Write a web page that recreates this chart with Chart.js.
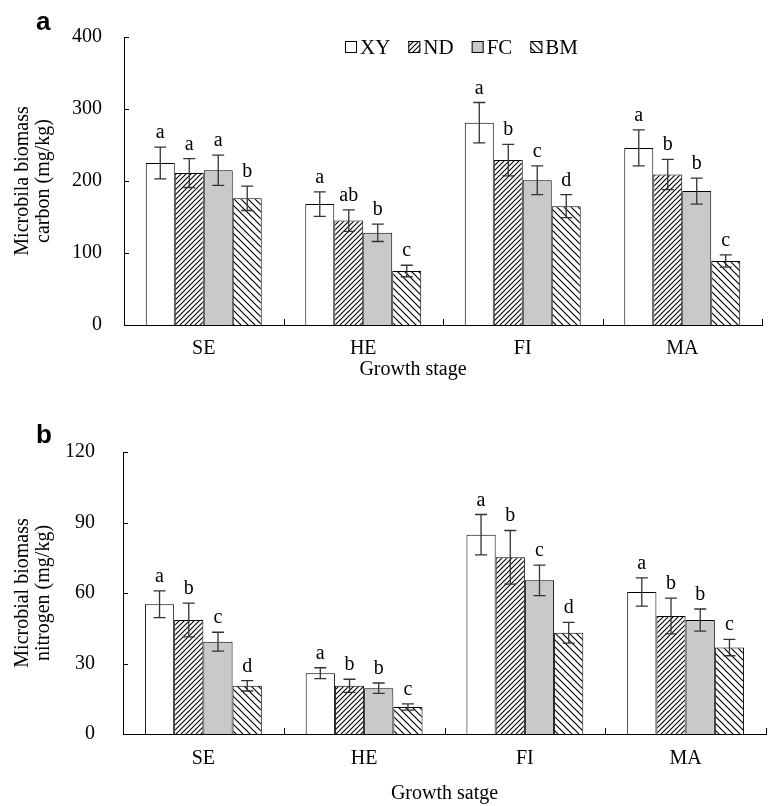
<!DOCTYPE html>
<html>
<head>
<meta charset="utf-8">
<script src="https://cdn.jsdelivr.net/npm/chart.js@4.4.0/dist/chart.umd.min.js"></script>
<style>
body { margin: 0; background: #fff; }
#cadre { position: relative; width: 769px; height: 806px; }
canvas { position: absolute; left: 0; }
</style>
</head>
<body>
<div id="cadre">
    <canvas id="chartA" width="769" height="400" style="top:0"></canvas>
    <canvas id="chartB" width="769" height="406" style="top:400px"></canvas>
</div>
<script>
// Données
var stages = ["SE", "HE", "FI", "MA"];
var traitements = ["XY", "ND", "FC", "BM"];

// a : carbone (mg/kg)
var carbonXY = [225, 168, 281, 246];
var carbonND = [211, 145, 229, 209];
var carbonFC = [215, 128, 201, 186];
var carbonBM = [176, 75, 165, 89];
var carbonErrXY = [22, 17, 28, 25];
var carbonErrND = [20, 15, 22, 21];
var carbonErrFC = [21, 12, 20, 18];
var carbonErrBM = [17, 8, 16, 8.5];
var carbonLetXY = ["a", "a", "a", "a"];
var carbonLetND = ["a", "ab", "b", "b"];
var carbonLetFC = ["a", "b", "c", "b"];
var carbonLetBM = ["b", "c", "d", "c"];
var carbonTicks = [0, 100, 200, 300, 400];

// b : azote (mg/kg)
var azoteXY = [55.2, 25.9, 84.8, 60.4];
var azoteND = [48.5, 20.5, 75.2, 50.2];
var azoteFC = [39.3, 19.5, 65.4, 48.5];
var azoteBM = [20.5, 11.5, 43.1, 36.8];
var azoteErrXY = [5.7, 2.3, 8.6, 6];
var azoteErrND = [7.2, 2.8, 11.4, 7.6];
var azoteErrFC = [4, 2.2, 6.5, 4.7];
var azoteErrBM = [2.2, 1.3, 4.4, 3.5];
var azoteLetXY = ["a", "a", "a", "a"];
var azoteLetND = ["b", "b", "b", "b"];
var azoteLetFC = ["c", "b", "c", "b"];
var azoteLetBM = ["d", "c", "d", "c"];
var azoteTicks = [0, 30, 60, 90, 120];

var serif = "'Liberation Serif', 'Times New Roman', serif";

// motifs de hachures
function hachure(sens, pas, epaisseur) {
    var c = document.createElement('canvas');
    c.width = pas; c.height = pas;
    var g = c.getContext('2d');
    g.fillStyle = '#fff';
    g.fillRect(0, 0, pas, pas);
    g.strokeStyle = '#000';
    g.lineWidth = epaisseur;
    g.beginPath();
    if (sens == "/") {
        g.moveTo(-1, pas + 1); g.lineTo(pas + 1, -1);
        g.moveTo(-1, 1); g.lineTo(1, -1);
        g.moveTo(pas - 1, pas + 1); g.lineTo(pas + 1, pas - 1);
    } else {
        g.moveTo(-1, -1); g.lineTo(pas + 1, pas + 1);
        g.moveTo(pas - 1, -1); g.lineTo(pas + 1, 1);
        g.moveTo(-1, pas - 1); g.lineTo(1, pas + 1);
    }
    g.stroke();
    return g.createPattern(c, 'repeat');
}

var remplissages = ['#ffffff', hachure("/", 5, 1.1), '#c9c9c9', hachure("\\", 7, 1.2)];

// barres d'erreur, lettres, petits traits et légende
var decorations = {
    id: 'decorations',
    afterDatasetsDraw: function(chart) {
        var ctx = chart.ctx;
        var ys = chart.scales.y;
        ctx.save();
        chart.data.datasets.forEach(function(ds, i) {
            var meta = chart.getDatasetMeta(i);
            meta.data.forEach(function(bar, j) {
                var v = ds.data[j], e = ds.erreurs[j];
                var haut = ys.getPixelForValue(v + e);
                var bas = ys.getPixelForValue(v - e);
                ctx.strokeStyle = '#333';
                ctx.lineWidth = 1.3;
                ctx.beginPath();
                ctx.moveTo(bar.x, haut); ctx.lineTo(bar.x, bas);
                ctx.moveTo(bar.x - 6, haut); ctx.lineTo(bar.x + 6, haut);
                ctx.moveTo(bar.x - 6, bas); ctx.lineTo(bar.x + 6, bas);
                ctx.stroke();
                ctx.fillStyle = '#000';
                ctx.font = "20px " + serif;
                ctx.textAlign = 'center';
                ctx.textBaseline = 'alphabetic';
                ctx.fillText(ds.lettres[j], bar.x, haut - 9);
            });
        });
        ctx.restore();
    },
    afterDraw: function(chart) {
        var ctx = chart.ctx;
        var area = chart.chartArea;
        var xs = chart.scales.x, ys = chart.scales.y;
        var opts = chart.options.plugins.decorations;
        ctx.save();
        ctx.strokeStyle = '#000';
        ctx.lineWidth = 1;
        ctx.beginPath();
        ys.ticks.forEach(function(t, k) {
            var y = Math.round(ys.getPixelForTick(k)) + 0.5;
            ctx.moveTo(area.left, y); ctx.lineTo(area.left + 5, y);
        });
        for (var k = 1; k <= stages.length; k++) {
            var x = Math.round(xs.getPixelForValue(k - 0.5)) + 0.5;
            ctx.moveTo(x, area.bottom); ctx.lineTo(x, area.bottom - 6);
        }
        ctx.stroke();

        // lettre du panneau
        ctx.fillStyle = '#000';
        ctx.font = "bold 26px 'Liberation Sans', Arial, sans-serif";
        ctx.textAlign = 'left';
        ctx.textBaseline = 'alphabetic';
        ctx.fillText(opts.panneau, 36, opts.panneauY);

        // titre de l'axe x
        if (opts.titreX) {
            ctx.font = "20px " + serif;
            ctx.textAlign = 'center';
            ctx.textBaseline = 'middle';
            ctx.fillText(opts.titreX, opts.titreXx, opts.titreXy);
        }

        // légende
        if (opts.legende) {
            var lx = opts.legendeX, ly = area.top + 4;
            ctx.font = "21px " + serif;
            ctx.textAlign = 'left';
            ctx.textBaseline = 'middle';
            chart.data.datasets.forEach(function(ds) {
                ctx.fillStyle = ds.backgroundColor;
                ctx.fillRect(lx, ly, 12, 12);
                ctx.strokeStyle = '#000';
                ctx.strokeRect(lx + 0.5, ly + 0.5, 11, 11);
                ctx.fillStyle = '#000';
                ctx.fillText(ds.label, lx + 15, ly + 7);
                lx += 15 + ctx.measureText(ds.label).width + 18;
            });
        }
        ctx.restore();
    }
};

function series(valeurs, erreurs, lettres) {
    return traitements.map(function(t, i) {
        return {
            label: t,
            data: valeurs[i],
            erreurs: erreurs[i],
            lettres: lettres[i],
            backgroundColor: remplissages[i],
            borderColor: '#000',
            borderWidth: 1,
            borderSkipped: 'bottom',
            barPercentage: 1,
            categoryPercentage: 0.727
        };
    });
}

function graphique(id, datasets, ticks, titreY, p) {
    var ctx = document.getElementById(id).getContext("2d");
    return new Chart(ctx, {
        type: "bar",
        data: { labels: stages, datasets: datasets },
        plugins: [decorations],
        options: {
            responsive: false,
            animation: false,
            devicePixelRatio: 1,
            layout: { padding: { top: p.haut, right: p.droite, left: 0, bottom: 0 } },
            plugins: {
                legend: { display: false },
                tooltip: { enabled: false },
                decorations: p.deco
            },
            scales: {
                x: {
                    grid: { display: false },
                    border: { display: true, color: '#000', width: 1 },
                    ticks: { color: '#000', font: { family: serif, size: 20 }, padding: p.padX, maxRotation: 0 },
                    title: p.titreX ? { display: true, text: p.titreX, color: '#000', font: { family: serif, size: 20 }, padding: { top: 0, bottom: 0 } } : { display: false },
                    afterFit: function(s) { s.height = p.hautX; }
                },
                y: {
                    min: 0,
                    max: ticks[ticks.length - 1],
                    afterBuildTicks: function(s) { s.ticks = ticks.map(function(v) { return { value: v }; }); },
                    grid: { display: false },
                    border: { display: true, color: '#000', width: 1 },
                    ticks: { color: '#000', font: { family: serif, size: 20 }, padding: p.padY },
                    title: { display: true, text: titreY, color: '#000', font: { family: serif, size: 20, lineHeight: 1.05 }, padding: { top: 12, bottom: 0 } },
                    afterFit: function(s) { s.width = p.largeurY; }
                }
            }
        }
    });
}

graphique("chartA",
    series([carbonXY, carbonND, carbonFC, carbonBM],
           [carbonErrXY, carbonErrND, carbonErrFC, carbonErrBM],
           [carbonLetXY, carbonLetND, carbonLetFC, carbonLetBM]),
    carbonTicks,
    ["Microbila biomass", "carbon (mg/kg)"],
    { haut: 37, droite: 7, hautX: 75, largeurY: 124, padX: 4, padY: 14,
      deco: { panneau: "a", panneauY: 30, legende: true, legendeX: 345,
              titreX: "Growth stage", titreXx: 413, titreXy: 370 } });

graphique("chartB",
    series([azoteXY, azoteND, azoteFC, azoteBM],
           [azoteErrXY, azoteErrND, azoteErrFC, azoteErrBM],
           [azoteLetXY, azoteLetND, azoteLetFC, azoteLetBM]),
    azoteTicks,
    ["Microbial biomass", "nitrogen (mg/kg)"],
    { haut: 52, droite: 3, hautX: 72, largeurY: 123, padX: 5, padY: 20,
      titreX: "Growth satge",
      deco: { panneau: "b", panneauY: 43, legende: false } });
</script>
</body>
</html>
